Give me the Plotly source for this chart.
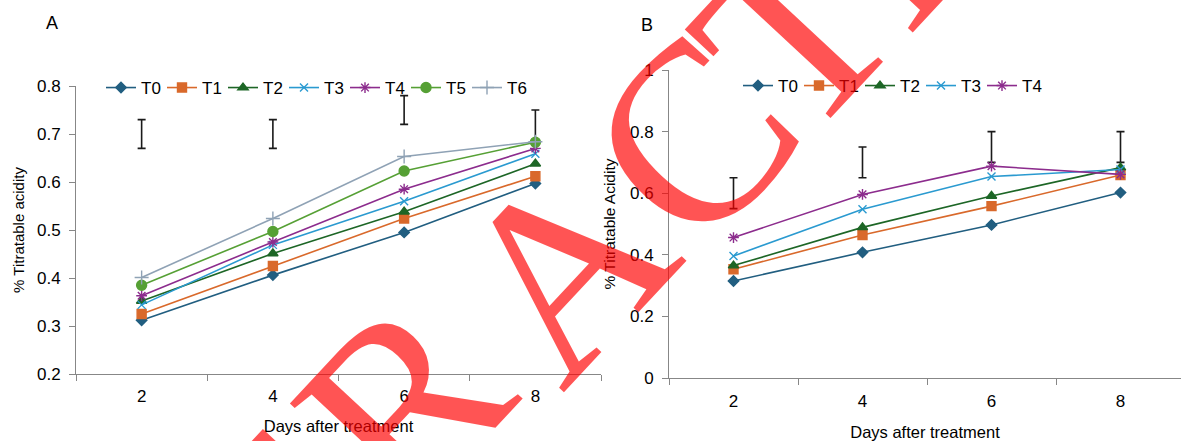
import plotly.graph_objects as go

days = [2, 4, 6, 8]
series_a = ["T0", "T1", "T2", "T3", "T4", "T5", "T6"]
series_b = ["T0", "T1", "T2", "T3", "T4"]

# Panel A values (% titratable acidity)
a_T0 = [0.312, 0.406, 0.495, 0.597]
a_T1 = [0.325, 0.425, 0.524, 0.612]
a_T2 = [0.352, 0.451, 0.538, 0.638]
a_T3 = [0.344, 0.469, 0.560, 0.659]
a_T4 = [0.363, 0.475, 0.585, 0.670]
a_T5 = [0.385, 0.497, 0.623, 0.683]
a_T6 = [0.401, 0.524, 0.653, 0.684]
a_err_low = [0.67, 0.67, 0.72, 0.68]
a_err_high = [0.73, 0.73, 0.78, 0.75]

# Panel B values
b_T0 = [0.315, 0.408, 0.497, 0.602]
b_T1 = [0.353, 0.464, 0.558, 0.659]
b_T2 = [0.365, 0.489, 0.591, 0.683]
b_T3 = [0.396, 0.548, 0.654, 0.677]
b_T4 = [0.456, 0.596, 0.688, 0.661]
b_err_low = [0.55, 0.65, 0.70, 0.70]
b_err_high = [0.65, 0.75, 0.80, 0.80]

a_vals = [a_T0, a_T1, a_T2, a_T3, a_T4, a_T5, a_T6]
b_vals = [b_T0, b_T1, b_T2, b_T3, b_T4]

# Watermark letters and their centre positions (pixels)
wm_letters = ["E", "T", "R", "A", "C", "T", "E", "D"]
wm_pos = [(140, 676), (272, 538), (402, 402), (562, 268), (692, 138), (794, 31), (898, -78), (1010, -190)]

colors = ["#215E80", "#D9692B", "#1D6626", "#2A9AD0", "#8C2C8D", "#56A035", "#8FA2B5"]
symbols = ["diamond", "square", "triangle-up", "x-thin-open", "asterisk-open", "circle", "cross-thin-open"]
sizes = [8, 9, 9, 8, 9, 10, 10]

FONT = "Liberation Sans, Arial, sans-serif"
W, H = 1181, 441

fig = go.Figure()

def add_series(names, vals, xa, ya, legend):
    for i, (n, v) in enumerate(zip(names, vals)):
        fig.add_trace(go.Scatter(
            x=days, y=v, name=n, mode="lines+markers",
            xaxis=xa, yaxis=ya, legend=legend,
            line=dict(color=colors[i], width=1.6),
            marker=dict(symbol=symbols[i], size=sizes[i], color=colors[i],
                        line=dict(color=colors[i], width=1.4)),
        ))

def add_err(low, high, xa, ya):
    mid = [(l + h) / 2 for l, h in zip(low, high)]
    half = [(h - l) / 2 for l, h in zip(low, high)]
    fig.add_trace(go.Scatter(
        x=days, y=mid, mode="markers", showlegend=False, hoverinfo="skip",
        xaxis=xa, yaxis=ya, marker=dict(size=1, opacity=0),
        error_y=dict(type="data", array=half, visible=True,
                     color="#1a1a1a", thickness=1.6, width=4),
    ))

add_err(a_err_low, a_err_high, "x", "y")
add_series(series_a, a_vals, "x", "y", "legend")
add_err(b_err_low, b_err_high, "x2", "y2")
add_series(series_b, b_vals, "x2", "y2", "legend2")

axis_col = "#878787"

def px_x(p):
    return p / W

def px_y(p):
    return 1 - p / H

common_x = dict(showgrid=False, zeroline=False, showline=True, linecolor=axis_col, linewidth=1,
                automargin=False,
                tickvals=days, ticktext=[str(d) for d in days], ticks="",
                tickfont=dict(family=FONT, size=17, color="#000"),
                minor=dict(tickvals=[1, 3, 5, 7, 9], ticks="outside", ticklen=6,
                           tickcolor=axis_col, tickwidth=1))
common_y = dict(showgrid=False, zeroline=False, showline=True, linecolor=axis_col, linewidth=1,
                automargin=False, ticklabelstandoff=5,
                ticks="outside", ticklen=6, tickcolor=axis_col, tickwidth=1,
                tickfont=dict(family=FONT, size=17, color="#000"))

annotations = [
    dict(text="A", x=px_x(52), y=px_y(23), xref="paper", yref="paper", showarrow=False,
         xanchor="center", yanchor="middle", font=dict(family=FONT, size=18, color="#000")),
    dict(text="B", x=px_x(647), y=px_y(25), xref="paper", yref="paper", showarrow=False,
         xanchor="center", yanchor="middle", font=dict(family=FONT, size=18, color="#000")),
]
for ch, (px, py) in zip(wm_letters, wm_pos):
    annotations.append(dict(
        text=ch, x=px_x(px), y=px_y(py), xref="paper", yref="paper",
        showarrow=False, textangle=-47, xanchor="center", yanchor="middle",
        font=dict(family="Liberation Serif, Times New Roman, serif", size=255,
                  color="rgba(255,0,0,0.67)")))

fig.update_layout(
    width=W, height=H, margin=dict(l=0, r=0, t=0, b=0),
    paper_bgcolor="white", plot_bgcolor="white",
    font=dict(family=FONT, color="#000"),
    xaxis=dict(domain=[px_x(76), px_x(601)], range=[1, 9], anchor="y", ticklabelstandoff=7,
               title=dict(text="Days after treatment", font=dict(size=16.5), standoff=15),
               **common_x),
    yaxis=dict(domain=[px_y(374), px_y(86)], range=[0.2, 0.8], anchor="x",
               tickvals=[0.2, 0.3, 0.4, 0.5, 0.6, 0.7, 0.8],
               ticktext=["0.2", "0.3", "0.4", "0.5", "0.6", "0.7", "0.8"],
               title=dict(text="% Titratable acidity", font=dict(size=15), standoff=8),
               **common_y),
    xaxis2=dict(domain=[px_x(669), 1.0], range=[1, 1 + (W - 669) / 129 * 2], anchor="y2",
                ticklabelstandoff=8,
                title=dict(text="Days after treatment", font=dict(size=16.5), standoff=19),
                **common_x),
    yaxis2=dict(domain=[px_y(378), px_y(70)], range=[0, 1], anchor="x2",
                tickvals=[0, 0.2, 0.4, 0.6, 0.8, 1.0],
                ticktext=["0", "0.2", "0.4", "0.6", "0.8", "1"],
                title=dict(text="% Titratable Acidity", font=dict(size=15.5), standoff=10),
                **common_y),
    legend=dict(orientation="h", x=px_x(101), xanchor="left", y=px_y(88), yanchor="middle",
                font=dict(family=FONT, size=17, color="#000"), entrywidth=16,
                bgcolor="rgba(0,0,0,0)", itemclick=False),
    legend2=dict(orientation="h", x=px_x(738), xanchor="left", y=px_y(86), yanchor="middle",
                 font=dict(family=FONT, size=17, color="#000"), entrywidth=16,
                 bgcolor="rgba(0,0,0,0)", itemclick=False),
    annotations=annotations,
)

fig.write_html("out.html")
